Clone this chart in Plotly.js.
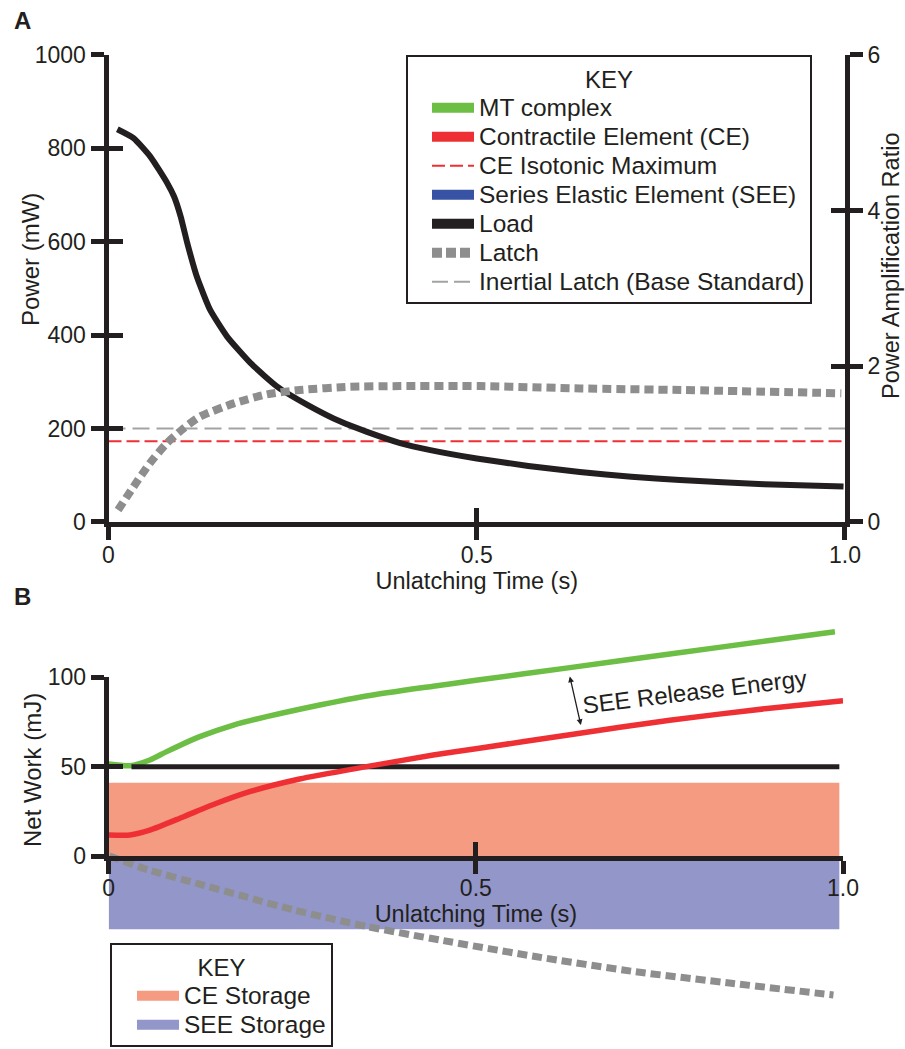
<!DOCTYPE html>
<html><head><meta charset="utf-8">
<script src="https://cdn.plot.ly/plotly-3.0.1.min.js"></script>
<style>html,body{margin:0;padding:0;background:#fff}#chart{width:905px;height:1049px}</style>
</head><body><div id="chart"></div>
<script>
// ---------- Panel A data ----------
const loadT = [0.012,0.034,0.057,0.080,0.089,0.098,0.107,0.120,0.138,0.161,0.193,0.229,0.270,0.315,0.351,0.396,0.437,0.500,0.570,0.640,0.710,0.776,0.890,0.998];
const loadPower = [841,822,782,725,697,654,597,525,454,397,340,290,251,215,193,169,154,136,120,107,97,90,81,76];
const latchT = [0.013,0.034,0.056,0.079,0.102,0.124,0.170,0.215,0.260,0.328,0.396,0.505,0.641,0.777,0.995];
const latchRatio = [0.154,0.454,0.754,1.011,1.204,1.353,1.524,1.640,1.696,1.738,1.746,1.746,1.716,1.696,1.654];
const refLineT = [0, 1];
const ceIsotonicMax = [173, 173];
const inertialLatchBase = [200, 200];

// ---------- Panel B data ----------
const mtT = [0.0,0.029,0.056,0.079,0.124,0.170,0.215,0.260,0.351,0.442,0.500,0.628,0.764,0.900,0.989];
const mtWork = [51.5,50.5,53.7,58.4,66.8,73.3,78.0,82.1,89.5,95.0,98.3,105.4,113.0,120.6,125.5];
const ceT = [0.0,0.029,0.056,0.102,0.147,0.192,0.260,0.351,0.442,0.500,0.628,0.764,0.900,1.0];
const ceWork = [11.8,11.8,14.5,22.0,29.5,36.0,43.1,50.0,56.5,60.0,67.9,76.0,82.7,86.9];
const loadBT = [0.031, 0.995];
const loadBWork = [50, 50];
const latchBT = [0.001,0.054,0.120,0.186,0.252,0.352,0.451,0.583,0.716,0.848,0.987];
const latchBWork = [0,-7.8,-15.3,-22.8,-30.2,-39.5,-47.0,-56.4,-64.7,-71.2,-77.8];
const storageT = [0, 0.995];
const ceStorage = [41, 41];
const seeStorage = [-41, -41];
const arrowT = [0.6275, 0.643];
const arrowWork = [101.3, 73.3];

// ---------- ticks ----------
const timeTicks = [0, 0.5, 1];
const timeTickText = ['0', '0.5', '1.0'];
const powerTicks = [0, 200, 400, 600, 800, 1000];
const ratioTicks = [0, 2, 4, 6];
const workTicks = [0, 50, 100];

const FONT = 'Liberation Sans, Arial, Helvetica, sans-serif';
const BLACK = '#231f20';
const GREEN = '#6dbe45';
const RED = '#ee3035';
const BLUE = '#3953a4';
const LATCH = '#8e8e8e';
const INERTIAL = '#a3a3a3';
const CE_FILL = '#f59b81';
const SEE_FILL = '#9296c9';

const big = s => '<span style="font-size:24.5px">' + s + '</span>';
const font = (size) => ({family:FONT, size:size, color:BLACK, weight:'normal'});

const traces = [];
// Panel A
traces.push({type:'scatter', mode:'lines', x:refLineT, y:inertialLatchBase, xaxis:'x', yaxis:'y', showlegend:false, hoverinfo:'skip', line:{color:INERTIAL, width:2, dash:'17px,7px'}});
traces.push({type:'scatter', mode:'lines', x:refLineT, y:ceIsotonicMax, xaxis:'x', yaxis:'y', showlegend:false, hoverinfo:'skip', line:{color:RED, width:2, dash:'13px,5px'}});
traces.push({type:'scatter', mode:'lines', x:latchT, y:latchRatio, xaxis:'x', yaxis:'y2', showlegend:false, hoverinfo:'skip', line:{color:LATCH, width:8, dash:'9px,5px', shape:'spline', smoothing:0.6}});
traces.push({type:'scatter', mode:'lines', x:loadT, y:loadPower, xaxis:'x', yaxis:'y', showlegend:false, hoverinfo:'skip', line:{color:BLACK, width:6, shape:'spline', smoothing:0.5}});
// Panel B (data on hidden axis y3, which spans the whole panel)
traces.push({type:'scatter', mode:'lines', x:storageT, y:ceStorage, xaxis:'x2', yaxis:'y3', fill:'tozeroy', fillcolor:CE_FILL, showlegend:false, hoverinfo:'skip', line:{width:0, color:CE_FILL}});
traces.push({type:'scatter', mode:'lines', x:storageT, y:seeStorage, xaxis:'x2', yaxis:'y3', fill:'tozeroy', fillcolor:SEE_FILL, showlegend:false, hoverinfo:'skip', line:{width:0, color:SEE_FILL}});
traces.push({type:'scatter', mode:'lines', x:mtT, y:mtWork, xaxis:'x2', yaxis:'y3', showlegend:false, hoverinfo:'skip', line:{color:GREEN, width:5.5, shape:'spline', smoothing:0.6}});
traces.push({type:'scatter', mode:'lines', x:loadBT, y:loadBWork, xaxis:'x2', yaxis:'y3', showlegend:false, hoverinfo:'skip', line:{color:BLACK, width:5}});
traces.push({type:'scatter', mode:'lines', x:ceT, y:ceWork, xaxis:'x2', yaxis:'y3', showlegend:false, hoverinfo:'skip', line:{color:RED, width:5.5, shape:'spline', smoothing:0.6}});
traces.push({type:'scatter', mode:'lines', x:latchBT, y:latchBWork, xaxis:'x2', yaxis:'y3', showlegend:false, hoverinfo:'skip', line:{color:LATCH, width:7, dash:'10px,5px', shape:'spline', smoothing:0.6}});

// Legend keys
const keyA = [
  ['MT complex', GREEN, 10, 'solid'],
  ['Contractile Element (CE)', RED, 10, 'solid'],
  ['CE Isotonic Maximum', RED, 2, '13px,5px'],
  ['Series Elastic Element (SEE)', BLUE, 10, 'solid'],
  ['Load', BLACK, 10, 'solid'],
  ['Latch', LATCH, 10, '10px,4px'],
  ['Inertial Latch (Base Standard)', INERTIAL, 2, '16px,6px']
];
keyA.forEach(k => traces.push({type:'scatter', mode:'lines', x:[null], y:[null], xaxis:'x', yaxis:'y', name:big(k[0]), legend:'legend', hoverinfo:'skip', line:{color:k[1], width:k[2], dash:k[3]}}));
const keyB = [['CE Storage', CE_FILL], ['SEE Storage', SEE_FILL]];
keyB.forEach(k => traces.push({type:'scatter', mode:'lines', x:[null], y:[null], xaxis:'x', yaxis:'y', name:big(k[0]), legend:'legend2', hoverinfo:'skip', line:{color:k[1], width:10}}));

// empty carriers so that the axis-only subplots (crossing ticks, panel B axes) are drawn
const axisPairs = [['x3','y'],['x','y5'],['x','y6'],['x2','y4'],['x5','y4'],['x2','y7']];
axisPairs.forEach(p => traces.push({type:'scatter', mode:'lines', x:[null], y:[null], xaxis:p[0], yaxis:p[1], showlegend:false, hoverinfo:'skip'}));

const axisStyle = {showline:true, linecolor:BLACK, linewidth:5, ticks:'outside', tickcolor:BLACK, tickwidth:5, ticklen:13, showgrid:false, zeroline:false, tickmode:'array', tickfont:font(23), fixedrange:true};
const insideStyle = {showline:false, ticks:'inside', tickcolor:BLACK, tickwidth:5, ticklen:14, showgrid:false, zeroline:false, tickmode:'array', showticklabels:false, fixedrange:true};

const layout = {
  width:905, height:1049, margin:{l:0, r:0, t:0, b:0}, paper_bgcolor:'#ffffff', plot_bgcolor:'rgba(0,0,0,0)',
  font:font(23), hovermode:false,
  xaxis: Object.assign({}, axisStyle, {domain:[0.1199, 0.9337], range:[0, 1], tickvals:timeTicks, ticktext:timeTickText, anchor:'y', ticklabelstandoff:-5, title:{text:'Unlatching Time (s)', font:font(23.5), standoff:0}}),
  xaxis3: Object.assign({}, insideStyle, {overlaying:'x', anchor:'y', range:[0, 1], tickvals:timeTicks}),
  yaxis: Object.assign({}, axisStyle, {domain:[0.50238, 0.94757], range:[0, 1000], tickvals:powerTicks, anchor:'x'}),
  yaxis5: Object.assign({}, insideStyle, {overlaying:'y', anchor:'x', side:'left', range:[0, 1000], tickvals:powerTicks}),
  yaxis2: Object.assign({}, axisStyle, {overlaying:'y', anchor:'x', side:'right', range:[0, 6], tickvals:ratioTicks}),
  yaxis6: Object.assign({}, insideStyle, {overlaying:'y', anchor:'x', side:'right', range:[0, 6], tickvals:ratioTicks}),
  xaxis2: Object.assign({}, axisStyle, {domain:[0.1201, 0.9315], range:[0, 1], tickvals:timeTicks, ticktext:timeTickText, anchor:'y4', ticklabelstandoff:-6, title:{text:'Unlatching Time (s)', font:font(23.5), standoff:0}}),
  xaxis5: Object.assign({}, insideStyle, {overlaying:'x2', anchor:'y4', range:[0, 1], tickvals:timeTicks}),
  yaxis3: {domain:[0.04671, 0.40896], range:[-80.58, 132.06], anchor:'x2', visible:false, fixedrange:true},
  yaxis4: Object.assign({}, axisStyle, {domain:[0.18398, 0.35433], range:[0, 100], tickvals:workTicks, anchor:'x2'}),
  yaxis7: Object.assign({}, insideStyle, {overlaying:'y4', anchor:'x2', range:[0, 100], tickvals:workTicks}),
  legend: {x:406/905, y:0.94757, xanchor:'left', yanchor:'top', bgcolor:'#ffffff', bordercolor:BLACK, borderwidth:2, itemwidth:42, indentation:19, font:font(20), title:{text:'KEY', side:'top center', font:font(24)}},
  legend2: {x:110/905, y:0.10105, xanchor:'left', yanchor:'top', bgcolor:'#ffffff', bordercolor:BLACK, borderwidth:2, itemwidth:42, indentation:20, font:font(20), title:{text:'KEY', side:'top center', font:font(24)}},
  annotations: [
    {xref:'paper', yref:'paper', x:12/905, y:1-21/1049, xanchor:'left', yanchor:'middle', text:'<b>A</b>', showarrow:false, font:font(24)},
    {xref:'paper', yref:'paper', x:12/905, y:1-596/1049, xanchor:'left', yanchor:'middle', text:'<b>B</b>', showarrow:false, font:font(24)},
    // y-axis titles
    {xref:'paper', yref:'paper', x:31/905, y:1-260/1049, xanchor:'center', yanchor:'middle', text:'Power (mW)', textangle:-90, showarrow:false, font:font(24)},
    {xref:'paper', yref:'paper', x:891/905, y:1-266/1049, xanchor:'center', yanchor:'middle', text:'Power Amplification Ratio', textangle:-90, showarrow:false, font:font(23.5)},
    {xref:'paper', yref:'paper', x:32/905, y:1-770/1049, xanchor:'center', yanchor:'middle', text:'Net Work (mJ)', textangle:-90, showarrow:false, font:font(24)},
    // panel B note
    {xref:'x2', yref:'y3', x:0.798, y:91.8, text:'SEE Release Energy', textangle:-7, showarrow:false, font:font(24)},
    {xref:'x2', yref:'y3', axref:'x2', ayref:'y3', x:arrowT[1], y:arrowWork[1], ax:arrowT[0], ay:arrowWork[0], text:'', showarrow:true, arrowside:'end+start', arrowhead:2, startarrowhead:2, arrowsize:0.9, startarrowsize:0.9, arrowwidth:1.3, arrowcolor:BLACK, standoff:0, startstandoff:0}
  ]
};

Plotly.newPlot('chart', traces, layout, {displayModeBar:false, staticPlot:true});
</script>
</body></html>
